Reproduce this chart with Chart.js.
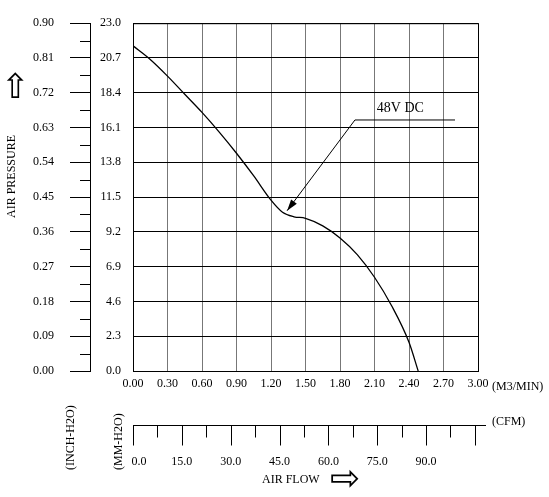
<!DOCTYPE html>
<html><head><meta charset="utf-8">
<script src="https://cdn.jsdelivr.net/npm/chart.js@4"></script>
<style>
body{margin:0;background:#fff;font-family:"Liberation Serif",serif;}
#wrap{position:relative;width:549px;height:497px;}
.t{position:absolute;font-size:12px;color:#000;white-space:nowrap;}
.rot{transform:rotate(-90deg);transform-origin:left top;}
</style></head><body>
<div id="wrap"><canvas id="c" width="549" height="497"></canvas>
<div class="t" style="left:492px;top:379px">(M3/MIN)</div>
<div class="t" style="left:492px;top:414px">(CFM)</div>
<div class="t rot" style="left:4px;top:218px">AIR PRESSURE</div>
<div class="t" style="left:1px;top:70px;font-size:34px;line-height:34px">&#8679;</div>
<div class="t rot" style="left:63px;top:470px">(INCH-H2O)</div>
<div class="t rot" style="left:111px;top:470px">(MM-H2O)</div>
<div class="t" style="left:262px;top:472px">AIR FLOW</div>
<div class="t" style="left:330px;top:460px;font-size:36px;line-height:36px">&#8680;</div>
</div>
<script>
const flowM3 = [0, 0.15, 0.30, 0.45, 0.60, 0.75, 0.90, 1.05, 1.20, 1.30, 1.40, 1.50, 1.65, 1.80, 1.95, 2.10, 2.25, 2.40, 2.48];
const pressMM = [21.5, 20.6, 19.5, 18.3, 17.1, 15.8, 14.4, 12.9, 11.3, 10.5, 10.2, 10.1, 9.6, 8.8, 7.7, 6.2, 4.3, 1.9, 0];
const mmTicks = [0, 2.3, 4.6, 6.9, 9.2, 11.5, 13.8, 16.1, 18.4, 20.7, 23.0];
const inchTicks = [0, 0.09, 0.18, 0.27, 0.36, 0.45, 0.54, 0.63, 0.72, 0.81, 0.90];
const cfmTicks = [0, 15, 30, 45, 60, 75, 90];
const CFM_PER_M3 = 35.315;
const font = {family:'Liberation Serif', size:12};

const extras = {
  id:'extras',
  afterDraw(ch){
    const c = ch.ctx, x = ch.scales.x, y = ch.scales.y, y2 = ch.scales.y2;
    c.save(); c.strokeStyle='#000'; c.fillStyle='#000'; c.lineWidth=1;
    // minor ticks on inch axis
    for(let i=0;i<10;i++){ const py=Math.round(y2.getPixelForValue(inchTicks[i]+0.045))+0.5;
      c.beginPath(); c.moveTo(y2.right-10,py); c.lineTo(y2.right,py); c.stroke(); }
    // CFM axis
    const ay=425.5, maxCfm = 3*CFM_PER_M3;
    c.beginPath(); c.moveTo(x.getPixelForValue(0),ay); c.lineTo(x.right+8,ay); c.stroke();
    for(let v=0; v<=maxCfm; v+=7.5){ const px=Math.round(x.getPixelForValue(v/CFM_PER_M3))+0.5;
      c.beginPath(); c.moveTo(px,ay); c.lineTo(px, ay+(v%15===0?20:12)); c.stroke(); }
    c.font='12px "Liberation Serif"'; c.textAlign='center'; c.textBaseline='top';
    cfmTicks.forEach(v=>{ c.fillText(v.toFixed(1), x.getPixelForValue(v/CFM_PER_M3)+(v===0?6:0), 456); });
    // annotation
    c.beginPath(); c.moveTo(x.getPixelForValue(2.8), y.getPixelForValue(16.6));
    c.lineTo(x.getPixelForValue(1.93), y.getPixelForValue(16.6));
    const tx=x.getPixelForValue(1.34), ty=y.getPixelForValue(10.6);
    c.lineTo(tx,ty); c.stroke();
    const ang=Math.atan2(ty-y.getPixelForValue(16.6), tx-x.getPixelForValue(1.93));
    c.beginPath(); c.moveTo(tx,ty);
    c.lineTo(tx-12*Math.cos(ang-0.3), ty-12*Math.sin(ang-0.3));
    c.lineTo(tx-12*Math.cos(ang+0.3), ty-12*Math.sin(ang+0.3)); c.closePath(); c.fill();
    c.font='14px "Liberation Serif"'; c.textAlign='left'; c.textBaseline='alphabetic';
    c.fillText('48V DC', x.getPixelForValue(2.12), y.getPixelForValue(16.6)-8);
    // frame
    c.strokeRect(x.left+0.5, y.top+0.5, x.right-x.left, y.bottom-y.top);
    c.restore();
  }
};

new Chart(document.getElementById('c'), {
  type:'line',
  data:{datasets:[{xAxisID:'x', yAxisID:'y', data:flowM3.map((v,i)=>({x:v,y:pressMM[i]})), borderColor:'#000', borderWidth:1.3, pointRadius:0, cubicInterpolationMode:'monotone'}]},
  options:{
    responsive:false, animation:false, events:[],
    layout:{padding:{top:14,right:71,left:0,bottom:0}},
    plugins:{legend:{display:false}, tooltip:{enabled:false}},
    scales:{
      x:{type:'linear', min:0, max:3, afterBuildTicks:s=>{s.ticks=[0,.3,.6,.9,1.2,1.5,1.8,2.1,2.4,2.7,3].map(v=>({value:v}));},
        afterFit:s=>{s.height=126;},
        ticks:{font, color:'#000', padding:6, maxRotation:0, callback:v=>v.toFixed(2)},
        grid:{color:'#777', drawTicks:false}, border:{display:false}},
      y:{type:'linear', position:'left', weight:0, min:0, max:23, afterBuildTicks:s=>{s.ticks=mmTicks.map(v=>({value:v}));},
        afterFit:s=>{s.width=43;},
        ticks:{font, color:'#000', padding:12, callback:v=>v.toFixed(1)},
        grid:{color:'#000', drawTicks:false}, border:{display:false}},
      y2:{type:'linear', position:'left', weight:1, min:0, max:0.9, afterBuildTicks:s=>{s.ticks=inchTicks.map(v=>({value:v}));},
        afterFit:s=>{s.width=90;},
        ticks:{font, color:'#000', padding:16, callback:v=>v.toFixed(2)},
        grid:{drawOnChartArea:false, color:'#000', tickLength:20}, border:{color:'#000'}}
    }
  },
  plugins:[extras]
});
</script></body></html>
